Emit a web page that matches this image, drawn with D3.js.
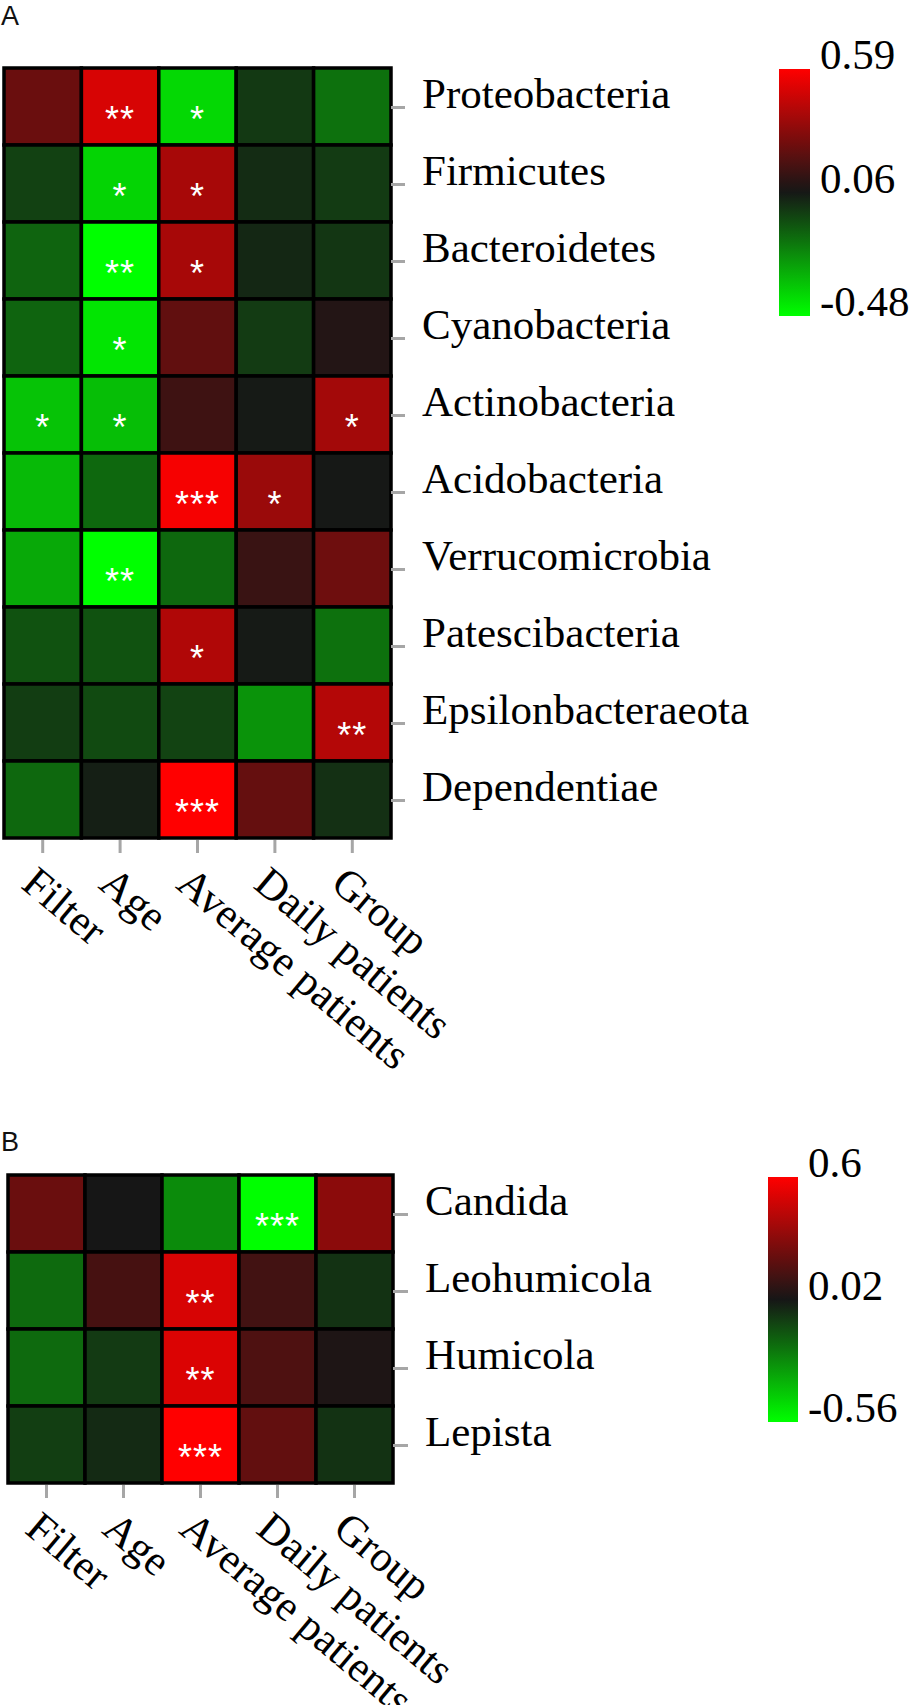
<!DOCTYPE html>
<html>
<head>
<meta charset="utf-8">
<script src="https://cdn.jsdelivr.net/npm/d3@7"></script>
<style>
  body { margin: 0; background: #fff; }
  svg { display: block; }
</style>
</head>
<body>
<div class="viz"></div>
<script>
const factors = ["Filter", "Age", "Average patients", "Daily patients", "Group"];

// panel A: bacterial phyla
const phyla = ["Proteobacteria", "Firmicutes", "Bacteroidetes", "Cyanobacteria", "Actinobacteria",
  "Acidobacteria", "Verrucomicrobia", "Patescibacteria", "Epsilonbacteraeota", "Dependentiae"];
const phylaValues = [
  [0.25, 0.50, -0.39, -0.02, -0.15],
  [-0.04, -0.38, 0.39, 0.01, -0.025],
  [-0.12, -0.48, 0.39, 0.02, -0.015],
  [-0.12, -0.42, 0.23, -0.025, 0.09],
  [-0.34, -0.33, 0.15, 0.05, 0.38],
  [-0.32, -0.13, 0.57, 0.36, 0.055],
  [-0.28, -0.48, -0.13, 0.14, 0.26],
  [-0.08, -0.08, 0.41, 0.05, -0.15],
  [-0.03, -0.06, -0.045, -0.23, 0.42],
  [-0.13, 0.04, 0.59, 0.24, 0.0]
];
const phylaStars = [
  ["", "**", "*", "", ""],
  ["", "*", "*", "", ""],
  ["", "**", "*", "", ""],
  ["", "*", "", "", ""],
  ["*", "*", "", "", "*"],
  ["", "", "***", "*", ""],
  ["", "**", "", "", ""],
  ["", "", "*", "", ""],
  ["", "", "", "", "**"],
  ["", "", "***", "", ""]
];
const phylaLegend = [-0.48, 0.06, 0.59];

// panel B: fungal genera
const genera = ["Candida", "Leohumicola", "Humicola", "Lepista"];
const generaValues = [
  [0.23, 0.02, -0.27, -0.56, 0.31],
  [-0.19, 0.14, 0.50, 0.13, -0.05],
  [-0.19, -0.07, 0.51, 0.16, 0.04],
  [-0.08, -0.03, 0.60, 0.21, -0.05]
];
const generaStars = [
  ["", "", "", "***", ""],
  ["", "", "**", "", ""],
  ["", "", "**", "", ""],
  ["", "", "***", "", ""]
];
const generaLegend = [-0.56, 0.02, 0.6];

const serif = "'Liberation Serif', 'Times New Roman', serif";
const sans = "'Liberation Sans', Arial, sans-serif";

const svg = d3.select(".viz").append("svg")
  .attr("width", 910)
  .attr("height", 1705);

function drawPanel(opt) {
  const g = svg.append("g");

  const color = d3.scaleLinear()
    .domain(opt.legend)
    .range(["#00ff00", "#161616", "#ff0000"])
    .clamp(true);

  const x = d3.scaleBand().domain(factors).range([opt.left, opt.right]);
  const y = d3.scaleBand().domain(opt.rows).range([opt.top, opt.bottom]);

  const cells = [];
  opt.values.forEach((row, i) => row.forEach((v, j) => {
    cells.push({ row: opt.rows[i], col: factors[j], v, star: opt.stars[i][j] });
  }));

  g.append("g")
    .selectAll("rect")
    .data(cells)
    .join("rect")
    .attr("x", d => x(d.col))
    .attr("y", d => y(d.row))
    .attr("width", x.bandwidth())
    .attr("height", y.bandwidth())
    .attr("fill", d => color(d.v))
    .attr("stroke", "#000")
    .attr("stroke-width", 3.5);

  g.append("g")
    .selectAll("text")
    .data(cells.filter(d => d.star))
    .join("text")
    .attr("x", d => x(d.col) + x.bandwidth() / 2)
    .attr("y", d => y(d.row) + y.bandwidth() / 2 + 25)
    .attr("text-anchor", "middle")
    .attr("fill", "#fff")
    .attr("font-family", sans)
    .attr("font-size", 36)
    .attr("letter-spacing", 1)
    .text(d => d.star);

  // row labels
  const yAxis = g.append("g")
    .attr("transform", `translate(${opt.right}, 0)`)
    .call(d3.axisRight(y).tickSize(opt.tickLen).tickPadding(opt.labelPad));
  yAxis.select(".domain").remove();
  yAxis.selectAll("line").attr("stroke", "#a6a6a6").attr("stroke-width", 3).attr("transform", "translate(0,1)");
  yAxis.selectAll("text")
    .attr("dy", "0.03em")
    .attr("fill", "#000")
    .attr("font-family", serif)
    .attr("font-size", 43);

  // column labels
  const xAxis = g.append("g")
    .attr("transform", `translate(0, ${opt.bottom + 2})`)
    .call(d3.axisBottom(x).tickSize(13));
  xAxis.select(".domain").remove();
  xAxis.selectAll("line").attr("stroke", "#a6a6a6").attr("stroke-width", 3);
  xAxis.selectAll("text")
    .attr("x", 0)
    .attr("y", 0)
    .attr("dy", 0)
    .attr("text-anchor", "start")
    .attr("transform", "translate(-23, 47) rotate(40)")
    .attr("fill", "#000")
    .attr("font-family", serif)
    .attr("font-size", 43);

  // colour bar
  const gradId = "grad-" + opt.name;
  const grad = svg.append("defs").append("linearGradient")
    .attr("id", gradId)
    .attr("x1", 0).attr("y1", 0).attr("x2", 0).attr("y2", 1);
  d3.range(0, 1.0001, 0.05).forEach(t => {
    grad.append("stop")
      .attr("offset", t)
      .attr("stop-color", color(opt.legend[2] - t * (opt.legend[2] - opt.legend[0])));
  });

  const ly = d3.scaleLinear().domain([opt.legend[0], opt.legend[2]]).range([opt.barBottom, opt.barTop]);

  g.append("rect")
    .attr("x", opt.barX)
    .attr("y", opt.barTop)
    .attr("width", opt.barW)
    .attr("height", opt.barBottom - opt.barTop)
    .attr("fill", `url(#${gradId})`);

  g.append("g")
    .selectAll("text")
    .data(opt.legend)
    .join("text")
    .attr("x", opt.barX + opt.barW + 10)
    .attr("y", (d, i) => i === 1 ? (opt.barTop + opt.barBottom) / 2 : ly(d))
    .attr("font-family", serif)
    .attr("font-size", 43)
    .attr("fill", "#000")
    .text(d => d);

  svg.append("text")
    .attr("x", 1)
    .attr("y", opt.letterY)
    .attr("font-family", sans)
    .attr("font-size", 27)
    .attr("fill", "#111")
    .text(opt.name);
}

drawPanel({
  name: "A", rows: phyla, values: phylaValues, stars: phylaStars, legend: phylaLegend,
  left: 4, right: 391, top: 68, bottom: 838, tickLen: 14, labelPad: 17,
  barX: 779, barW: 31, barTop: 69, barBottom: 316, letterY: 25
});

drawPanel({
  name: "B", rows: genera, values: generaValues, stars: generaStars, legend: generaLegend,
  left: 8, right: 393, top: 1175, bottom: 1483, tickLen: 15, labelPad: 17,
  barX: 768, barW: 30, barTop: 1177, barBottom: 1422, letterY: 1151
});
</script>
</body>
</html>
